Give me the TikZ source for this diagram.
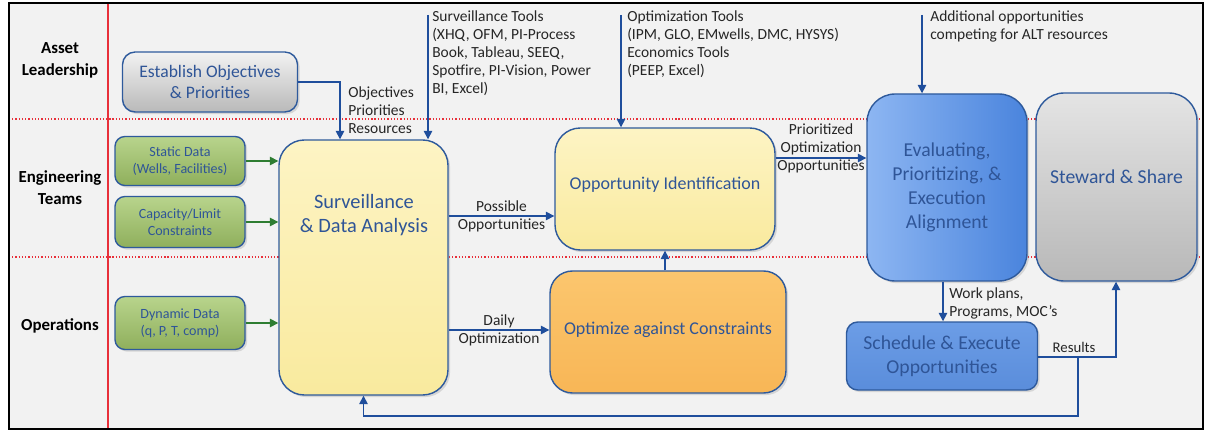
\documentclass[tikz,border=0pt]{standalone}
\usepackage{fontspec}
\setmainfont{Carlito}
\usetikzlibrary{shadows, arrows.meta}

\definecolor{txtblue}{HTML}{2F5597}
\definecolor{lineblue}{HTML}{1F4E9C}
\definecolor{edgeblue}{HTML}{2E5A9C}
\definecolor{arrgreen}{HTML}{2E7D32}
\definecolor{bggray}{HTML}{F2F2F2}
\definecolor{lanered}{HTML}{E8303A}
\definecolor{notegray}{HTML}{262626}
\definecolor{greentop}{HTML}{B8D48C}
\definecolor{greenbot}{HTML}{8FAF5C}
\definecolor{yeltop}{HTML}{FDF4C4}
\definecolor{yelbot}{HTML}{F9EA9E}
\definecolor{orgtop}{HTML}{FBC66E}
\definecolor{orgbot}{HTML}{F8B656}
\definecolor{evalleft}{HTML}{8DB6F2}
\definecolor{evalright}{HTML}{4A84DD}
\definecolor{schedtop}{HTML}{6C9DE6}
\definecolor{schedbot}{HTML}{5A8DDB}
\definecolor{stewtop}{HTML}{E4E4E4}
\definecolor{stewbot}{HTML}{B8B8B8}

\tikzset{
    sz/.style 2 args={minimum width=#1*0.025cm, minimum height=#2*0.025cm},
    proc/.style={draw=edgeblue, line width=1pt, rounded corners=#1, text=txtblue,
        align=center, inner sep=2pt,
        drop shadow={opacity=0.25, shadow xshift=1.5pt, shadow yshift=-1.5pt}},
    proc/.default=8pt,
    greenbox/.style={proc=7pt, top color=greentop, bottom color=greenbot,
        font=\fontsize{10}{12}\selectfont},
    yellowbox/.style={proc=18pt, top color=yeltop, bottom color=yelbot},
    lane/.style={font=\fontsize{12}{15.5}\selectfont\bfseries, align=center},
    note/.style={font=\fontsize{11}{12.8}\selectfont, text=notegray, align=left, inner sep=0pt},
    flow/.style={draw=lineblue, line width=1.1pt, -{Triangle[length=6pt, width=6pt]}},
    feed/.style={draw=arrgreen, line width=1.1pt, -{Triangle[length=6pt, width=6pt]}}
}

\begin{document}
\begin{tikzpicture}[x=0.025cm, y=-0.025cm]

    % Frame and lanes
    \useasboundingbox (0,0) rectangle (1209,432);
    \fill[bggray] (9,3) rectangle (1203,429);
    \draw[lanered, line width=0.8pt] (108,3) -- (108,429);
    \draw[lanered, line width=0.9pt, dash pattern=on 0.9pt off 1.4pt] (9,119) -- (1203,119);
    \draw[lanered, line width=0.9pt, dash pattern=on 0.9pt off 1.4pt] (9,257) -- (1203,257);
    \draw[line width=1.8pt] (9,3) rectangle (1203,429);

    \node[lane] (asset) at (60,60)  {Asset\\Leadership};
    \node[lane] (eng)   at (60,188) {Engineering\\Teams};
    \node[lane] (ops)   at (60,326) {Operations};

    % Boxes
    \node[proc=9pt, sz={175}{60}, top color=gray!10, bottom color=gray!55,
          font=\fontsize{12.5}{15.5}\selectfont] (est) at (210,82) {Establish Objectives\\\& Priorities};
    \node[greenbox, sz={130}{49}] (stat) at (180,161) {Static Data\\(Wells, Facilities)};
    \node[greenbox, sz={130}{51}] (cap)  at (180,222) {Capacity/Limit\\Constraints};
    \node[greenbox, sz={130}{53}] (dyn)  at (180,323) {Dynamic Data\\(q, P, T, comp)};

    \node[yellowbox, sz={169}{255}] (surv) at (363.5,267.5) {};
    \node[text=txtblue, align=center, font=\fontsize{14.5}{17}\selectfont] (survlbl) at (364,215) {Surveillance\\\& Data Analysis};

    \node[yellowbox, sz={220}{122}, font=\fontsize{12.8}{15}\selectfont] (oppid) at (665,189) {\raisebox{8pt}{Opportunity Identification}};
    \node[proc=16pt, sz={236}{122}, top color=orgtop, bottom color=orgbot,
          font=\fontsize{12.8}{15}\selectfont] (optc) at (668,332) {\raisebox{5pt}{Optimize against Constraints}};

    \node[proc=20pt, sz={160}{187}, left color=evalleft, right color=evalright,
          font=\fontsize{14}{17}\selectfont] (eval) at (947,187.5) {Evaluating,\\Prioritizing, \&\\Execution\\Alignment};
    \node[proc=20pt, sz={161}{188}, top color=stewtop, bottom color=stewbot,
          font=\fontsize{14}{17}\selectfont] (stew) at (1116.5,187) {\raisebox{14pt}{Steward \& Share}};
    \node[proc=8pt, sz={191}{68}, top color=schedtop, bottom color=schedbot,
          font=\fontsize{14}{17}\selectfont] (sched) at (942,356) {Schedule \& Execute\\Opportunities};

    % Inputs from above
    \coordinate (objx)  at (340,0);
    \coordinate (sttop) at (428,15);
    \coordinate (optop) at (621,15);
    \coordinate (adtop) at (922,15);
    \draw[flow] (est.east) -| (objx |- surv.north);
    \node[note, anchor=north west] (objlbl) at (348,86) {Objectives\\Priorities\\Resources};
    \draw[flow] (sttop) -- (sttop |- surv.north);
    \node[note, anchor=north west] (stlbl) at (432,10) {Surveillance Tools\\(XHQ, OFM, PI-Process\\Book, Tableau, SEEQ,\\Spotfire, PI-Vision, Power\\BI, Excel)};
    \draw[flow] (optop) -- (optop |- oppid.north);
    \node[note, anchor=north west] (oplbl) at (627,10) {Optimization Tools\\(IPM, GLO, EMwells, DMC, HYSYS)\\Economics Tools\\(PEEP, Excel)};
    \draw[flow] (adtop) -- (adtop |- eval.north);
    \node[note, anchor=north west] (adlbl) at (930,10) {Additional opportunities\\competing for ALT resources};

    % Data feeds
    \draw[feed] (stat.east) -- (stat.east -| surv.west);
    \draw[feed] (cap.east)  -- (cap.east -| surv.west);
    \draw[feed] (dyn.east)  -- (dyn.east -| surv.west);

    % Flow between steps
    \draw[flow] (surv.east |- 0,216) -- (oppid.west |- 0,216)
        node[note, align=center, midway] {Possible\\Opportunities};
    \draw[flow] (surv.east |- 0,330) -- (optc.west |- 0,330)
        node[note, align=center, midway] {Daily\\Optimization};
    \draw[flow] (optc.north -| 665,0) -- (oppid.south -| 665,0);
    \draw[flow] (oppid.east |- 0,158) -- (eval.west |- 0,158)
        node[note, align=center, midway, yshift=0.25cm] {Prioritized\\Optimization\\Opportunities};
    \draw[flow] (eval.south -| 943,0) -- (sched.north -| 943,0);
    \node[note, anchor=west] (worklbl) at (949,303) {Work plans,\\Programs, MOC’s};
    \draw[flow] (sched.east |- 0,357) -| (stew.south -| 1116,0);
    \node[note, font=\fontsize{10.5}{12}\selectfont] (reslbl) at (1074,347) {Results};

    % Feedback loop
    \coordinate (fb) at (1078,357);
    \draw[flow] (fb) -- (fb |- 0,416) -| (surv.south);

\end{tikzpicture}
\end{document}
